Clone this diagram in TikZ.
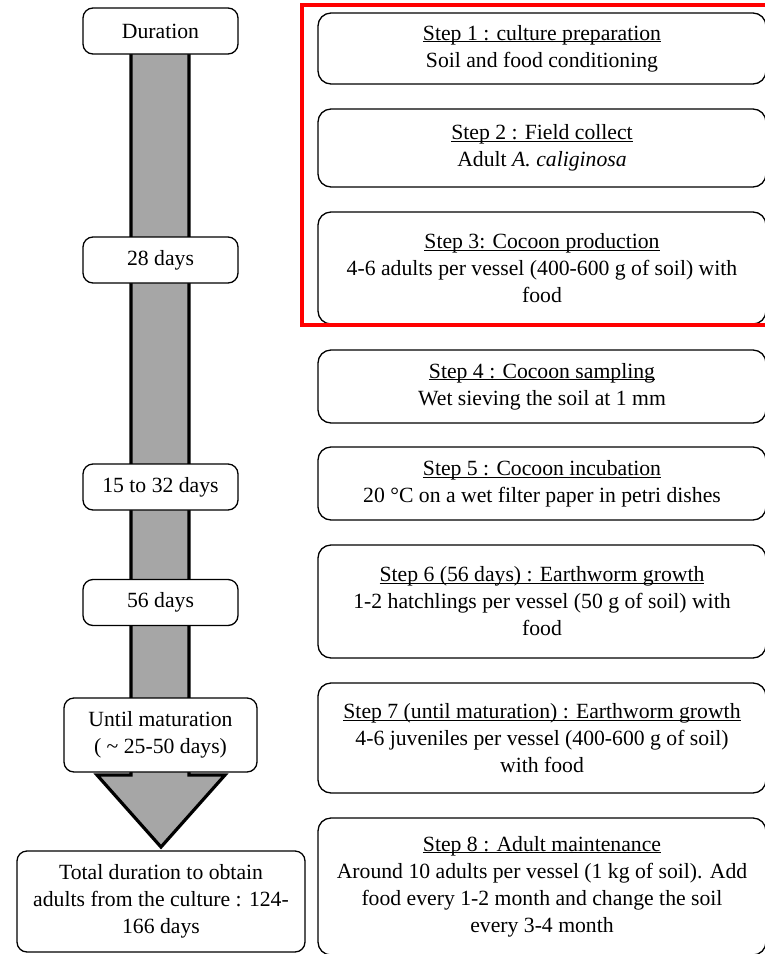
\documentclass[tikz,border=0pt]{standalone}
\usepackage{fontspec}
\setmainfont{Liberation Serif}
\newcommand\myul[1]{\leavevmode\setbox0\hbox{#1}\rlap{\rule[-2.2pt]{\wd0}{0.9pt}}\box0}
\tikzset{
  box/.style={draw=black, line width=1.3pt, rounded corners=10pt, fill=white, align=center, inner sep=0pt, font=\fontsize{21.7}{27}\selectfont},
  lbox/.style={box, minimum width=155pt, minimum height=46pt},
  rbox/.style={box, rounded corners=13pt, minimum width=448pt},
  arrowshape/.style={draw=black, fill=gray!70, line width=3.2pt, line join=miter},
  framebox/.style={draw=red, line width=4pt},
}
\begin{document}
\begin{tikzpicture}[x=1pt,y=-1pt]
\useasboundingbox (0,0) rectangle (765,954);
% big arrow
\coordinate (a1) at (131,40);
\coordinate (a2) at (131,775);
\coordinate (a3) at (97,775);
\coordinate (tip) at (161,847);
\coordinate (a5) at (225,775);
\coordinate (a6) at (189,775);
\coordinate (a7) at (189,40);
\draw[arrowshape] (a1) -- (a2) -- (a3) -- (tip) -- (a5) -- (a6) -- (a7);
% left boxes
\node[lbox] (dur) at (160.5,31) {Duration};
\node[lbox] (d28) at (160.5,260) {28 days};
\node[lbox] (d15) at (160.5,487) {15 to 32 days};
\node[lbox] (d56) at (160.5,602.5) {56 days};
\node[box, minimum width=193pt, minimum height=74pt] (dmat) at (160.5,735) {Until maturation\\( \textasciitilde{} 25-50 days)};
\node[box, minimum width=288pt, minimum height=101pt] (dtot) at (161,901.5) {Total duration to obtain\\adults from the culture : 124-\\166 days};
% right boxes
\node[rbox, minimum height=71pt] (s1) at (542,48.5) {\myul{Step 1 : culture preparation}\\Soil and food conditioning};
\node[rbox, minimum height=78pt] (s2) at (542,148) {\myul{Step 2 : Field collect}\\Adult \textit{A. caliginosa}};
\node[rbox, minimum height=112pt] (s3) at (542,268) {\myul{Step 3: Cocoon production}\\4-6 adults per vessel (400-600 g of soil) with\\food};
\node[rbox, minimum height=73pt] (s4) at (542,386.5) {\myul{Step 4 : Cocoon sampling}\\Wet sieving the soil at 1 mm};
\node[rbox, minimum height=73pt] (s5) at (542,483.5) {\myul{Step 5 : Cocoon incubation}\\20 °C on a wet filter paper in petri dishes};
\node[rbox, minimum height=113pt] (s6) at (542,601.5) {\myul{Step 6 (56 days) : Earthworm growth}\\1-2 hatchlings per vessel (50 g of soil) with\\food};
\node[rbox, minimum height=110pt] (s7) at (542,738) {\myul{Step 7 (until maturation) : Earthworm growth}\\4-6 juveniles per vessel (400-600 g of soil)\\with food};
\node[rbox, minimum height=137pt] (s8) at (542,886.5) {\myul{Step 8 : Adult maintenance}\\Around 10 adults per vessel (1 kg of soil). Add\\food every 1-2 month and change the soil\\every 3-4 month};
% red frame
\draw[framebox] (302,5) rectangle (778,325);
\end{tikzpicture}
\end{document}
